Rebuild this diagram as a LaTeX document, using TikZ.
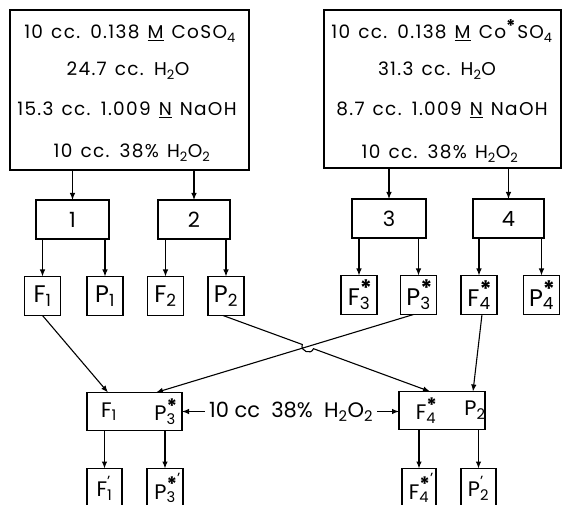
\documentclass[tikz,border=0pt]{standalone}
\usepackage{fontspec}
\usepackage{graphicx}
\setmainfont{Poppins}
\newfontfamily\widefont[LetterSpace=7, WordSpace=1.3]{Poppins}
\usetikzlibrary{arrows.meta,calc}
\newcommand\lo[1]{\textsubscript{#1}}
\newcommand\st{\scalebox{1.35}{\textbf{*}}}
\newcommand\pr{\raisebox{0.35ex}{'}}
\newcommand\prs{\raisebox{1.0ex}{'}}
\newcommand\stk[2]{\rlap{\textsuperscript{#1}}\textsubscript{#2}}
\begin{document}
\begin{tikzpicture}[x=1pt,y=-1pt,
  bx/.style={draw, line width=1.3pt, inner sep=0pt, outer sep=0pt},
  sbx/.style={bx, minimum width=36, minimum height=39, font=\fontsize{24}{26}\selectfont},
  nbx/.style={bx, minimum height=39, font=\fontsize{21}{24}\selectfont},
  pbx/.style={bx, minimum height=38},
  txt/.style={inner sep=0pt, anchor=base, font=\widefont\fontsize{18.5}{20}\selectfont},
  lbl/.style={inner sep=0pt, font=\fontsize{21}{24}\selectfont},
  arr/.style={-{Latex[length=7pt,width=5.5pt]}, line width=1.1pt}]
\clip (0,0) rectangle (563,505);
% top boxes
\node[bx, minimum width=239, minimum height=160] (A) at (129.5,90) {};
\node[txt] (a1) at (130,39) {10 cc. 0.138 \underline{M}\ CoSO\lo{4}};
\node[txt] (a2) at (128,76) {24.7 cc. H\lo{2}O};
\node[txt] (a3) at (127,116) {15.3 cc. 1.009 \underline{N} NaOH};
\node[txt] (a4) at (132,158) {10 cc. 38\% H\lo{2}O\lo{2}};
\node[bx, minimum width=237, minimum height=158] (B) at (442.5,89) {};
\node[txt] (b1) at (442,39) {10 cc. 0.138 \underline{M} Co\textsuperscript{\st}SO\lo{4}};
\node[txt] (b2) at (437,76) {31.3 cc. H\lo{2}O};
\node[txt] (b3) at (442,116) {8.7 cc. 1.009 \underline{N} NaOH};
\node[txt] (b4) at (440,159) {10 cc. 38\% H\lo{2}O\lo{2}};
% numbered boxes
\node[nbx, minimum width=73] (n1) at (72.5,219.5) {1};
\node[nbx, minimum width=72] (n2) at (194,219.5) {2};
\node[nbx, minimum width=74] (n3) at (389,218.5) {3};
\node[nbx, minimum width=71] (n4) at (508.5,218.5) {4};
% fractions
\node[sbx] (F1) at (42.5,296) {F\lo{1}};
\node[sbx] (P1) at (105,296) {P\lo{1}};
\node[sbx] (F2) at (165.5,296) {F\lo{2}};
\node[sbx] (P2) at (226,296) {P\lo{2}};
\node[sbx] (F3) at (359,295) {F\stk{\st}{3}};
\node[sbx] (P3) at (418.5,295) {P\stk{\st}{3}};
\node[sbx] (F4) at (479,295) {F\stk{\st}{4}};
\node[sbx] (P4) at (541.5,295) {P\stk{\st}{4}};
% mixed boxes
\node[pbx, minimum width=95] (L) at (134.5,411.5) {};
\node[lbl] (l1) at (109,411.5) {F\lo{1}};
\node[lbl] (l2) at (165,411.5) {P\stk{\st}{3}};
\node[pbx, minimum width=86] (R) at (442,410.5) {};
\node[lbl] (r1) at (426,410.5) {F\stk{\st}{4}};
\node[lbl] (r2) at (475,410.5) {P\lo{2}};
\node[lbl, inner sep=4pt] (M) at (291,411.5) {10 cc\ \ 38\%\ \ H\lo{2}O\lo{2}};
% bottom boxes
\node[sbx, minimum width=35, font=\fontsize{21}{24}\selectfont] (F1p) at (104.5,488) {F\stk{\pr}{1}};
\node[sbx, minimum width=36, font=\fontsize{21}{24}\selectfont] (P3p) at (165,488) {P\stk{\st\prs}{3}};
\node[sbx, minimum width=34, font=\fontsize{21}{24}\selectfont] (F4p) at (419,488) {F\stk{\st\prs}{4}};
\node[sbx, minimum width=35, font=\fontsize{21}{24}\selectfont] (P2p) at (478.5,488) {P\stk{\pr}{2}};
% vertical arrows
\foreach \p/\c in {A/n1, A/n2, B/n3, B/n4, n1/F1, n1/P1, n2/F2, n2/P2,
                   n3/F3, n3/P3, n4/F4, n4/P4, L/F1p, L/P3p, R/F4p, R/P2p}
  \draw[arr] (\p.south -| \c.north) -- (\c.north);
% H2O2 arrows
\draw[arr] (M.west) -- (L.east |- M.west);
\draw[arr] (M.east) -- (R.west |- M.east);
% crossing connectors
\draw[arr] (F1.south) -- ([xshift=21]L.north west);
\draw[arr] ([xshift=-5]P3.south) -- ([xshift=69]L.north west);
\draw[arr] ([xshift=-3]P2.south) -- (302.3,344.5)
  .. controls (299.9,351.1) and (311.1,355.3) .. (313.5,348.7)
  -- ([xshift=31]R.north west);
\draw[arr] ([xshift=3]F4.south) -- ([xshift=74]R.north west);
\end{tikzpicture}
\end{document}
